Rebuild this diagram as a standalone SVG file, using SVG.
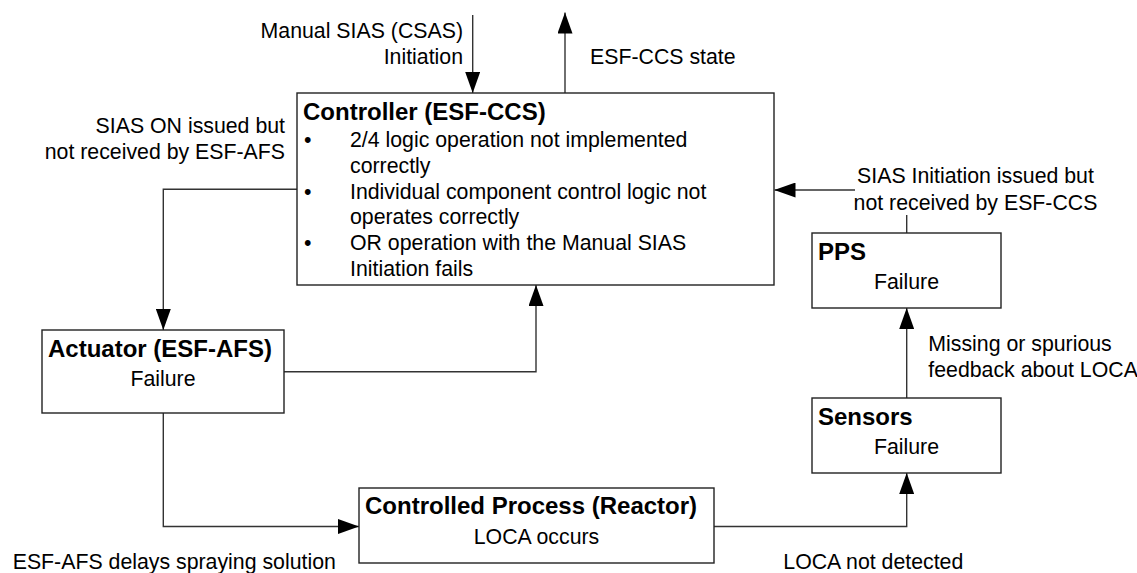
<svg xmlns="http://www.w3.org/2000/svg" width="1137" height="573" viewBox="0 0 1137 573">
<defs>
<style>
.box{fill:#fff;stroke:#222;stroke-width:1.4}
.ln{fill:none;stroke:#333;stroke-width:1.4}
.t{font-family:"Liberation Sans",Arial,sans-serif;font-size:21.3px;fill:#000}
.b{font-family:"Liberation Sans",Arial,sans-serif;font-size:24px;font-weight:bold;fill:#000}
.r{text-anchor:end}
.m{text-anchor:middle}
</style>
<marker id="ah" markerUnits="userSpaceOnUse" markerWidth="21" markerHeight="15" refX="21" refY="7.5" orient="auto">
<path d="M0,0 L21,7.5 L0,15 Z" fill="#000"/>
</marker>
</defs>
<rect width="1137" height="573" fill="#fff"/>

<g id="connectors">
<path class="ln" d="M472.7,15 V93" marker-end="url(#ah)"/>
<path class="ln" d="M565,93 V12.5" marker-end="url(#ah)"/>
<path class="ln" d="M297,189.3 H163.3 V330" marker-end="url(#ah)"/>
<path class="ln" d="M284,371.7 H536 V285" marker-end="url(#ah)"/>
<path class="ln" d="M163.3,413 V526.5 H359" marker-end="url(#ah)"/>
<path class="ln" d="M714,526.5 H906.7 V473" marker-end="url(#ah)"/>
<path class="ln" d="M906.7,398 V308" marker-end="url(#ah)"/>
<path class="ln" d="M906.7,233 V215 M855,190 H774.5" marker-end="url(#ah)"/>
</g>

<g id="controller">
<rect class="box" x="297" y="93" width="477" height="192"/>
<text class="b" x="303" y="120">Controller (ESF-CCS)</text>
<text class="t" x="304" y="146.5">•</text>
<text class="t" x="350" y="146.5">2/4 logic operation not implemented</text>
<text class="t" x="350" y="172.5">correctly</text>
<text class="t" x="304" y="198.5">•</text>
<text class="t" x="350" y="198.5">Individual component control logic not</text>
<text class="t" x="350" y="224">operates correctly</text>
<text class="t" x="304" y="250">•</text>
<text class="t" x="350" y="250">OR operation with the Manual SIAS</text>
<text class="t" x="350" y="276">Initiation fails</text>
</g>

<g id="actuator">
<rect class="box" x="42" y="330" width="242" height="83"/>
<text class="b m" x="160" y="356.7">Actuator (ESF-AFS)</text>
<text class="t m" x="163" y="386">Failure</text>
</g>

<g id="process">
<rect class="box" x="359" y="488" width="355" height="75"/>
<text class="b" x="365" y="513.5">Controlled Process (Reactor)</text>
<text class="t m" x="536.5" y="544">LOCA occurs</text>
</g>

<g id="sensors">
<rect class="box" x="812" y="398" width="189" height="75"/>
<text class="b" x="818" y="424.5">Sensors</text>
<text class="t m" x="906.5" y="453.5">Failure</text>
</g>

<g id="pps">
<rect class="box" x="812" y="233" width="189" height="75"/>
<text class="b" x="818" y="259.5">PPS</text>
<text class="t m" x="906.5" y="288.5">Failure</text>
</g>

<g id="labels">
<text class="t r" x="463" y="38.3">Manual SIAS (CSAS)</text>
<text class="t r" x="463" y="63.5">Initiation</text>
<text class="t" x="590" y="63.5">ESF-CCS state</text>
<text class="t r" x="285" y="132.7">SIAS ON issued but</text>
<text class="t r" x="285" y="159">not received by ESF-AFS</text>
<text class="t m" x="975.5" y="183.3">SIAS Initiation issued but</text>
<text class="t m" x="975.5" y="209.5">not received by ESF-CCS</text>
<text class="t" x="928.3" y="351">Missing or spurious</text>
<text class="t" x="928.3" y="377">feedback about LOCA</text>
<text class="t" x="12.7" y="569">ESF-AFS delays spraying solution</text>
<text class="t" x="783.3" y="569">LOCA not detected</text>
</g>
</svg>
